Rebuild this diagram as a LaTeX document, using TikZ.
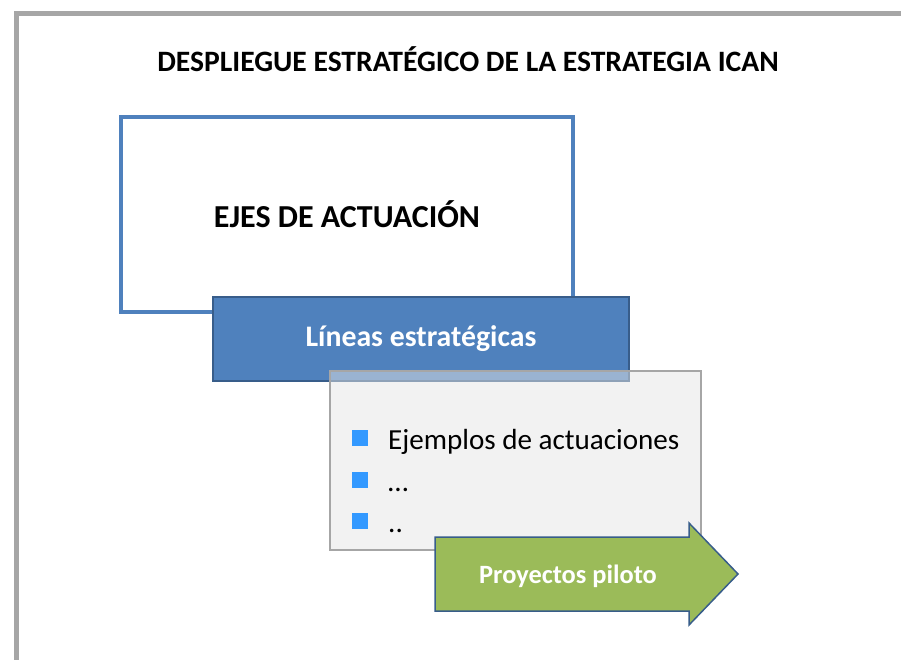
\documentclass[tikz,border=0pt]{standalone}
\usepackage{fontspec}
\setmainfont{Carlito}
\usetikzlibrary{positioning}

\definecolor{azul}{HTML}{4F81BD}
\definecolor{azulosc}{HTML}{385D8A}
\definecolor{verde}{HTML}{9BBB59}
\definecolor{gris}{HTML}{A6A6A6}
\definecolor{grisfondo}{HTML}{E5E5E5}
\definecolor{vineta}{HTML}{3399FF}

\begin{document}
\begin{tikzpicture}[x=1pt, y=-1pt,
    ejebox/.style={draw=azul, line width=4pt, minimum width=452pt, minimum height=195pt, inner sep=0pt},
    lineabox/.style={draw=azulosc, line width=1.5pt, fill=azul, text=white, minimum width=416pt, minimum height=84pt, inner sep=0pt},
    ejemplobox/.style={draw=gris, line width=1.5pt, fill=grisfondo, fill opacity=0.5, draw opacity=1, minimum width=371pt, minimum height=179pt, inner sep=0pt},
    vinetabox/.style={fill=vineta, minimum size=16pt, inner sep=0pt},
    pilototext/.style={text=white, inner sep=0pt}]

    % Tamano fijo de la pagina y marco gris (se sale por la derecha y por abajo)
    \useasboundingbox (0,0) rectangle (901,659);
    \clip (0,0) rectangle (901,659);
    \draw[gris, line width=5pt] (16,13) rectangle (930,690);

    % Titulo
    \node[anchor=base] (titulo) at (468,71) {\fontsize{29.6}{34}\selectfont\bfseries DESPLIEGUE ESTRATÉGICO DE LA ESTRATEGIA ICAN};

    % Caja de ejes de actuacion
    \node[ejebox] (ejes) at (347,214.5) {\fontsize{32}{36}\selectfont\bfseries EJES DE ACTUACIÓN};

    % Caja azul de lineas estrategicas
    \node[lineabox] (lineas) at (421,339) {\fontsize{29.8}{34}\selectfont\bfseries Líneas estratégicas};

    % Caja gris semitransparente por encima de la azul
    \node[ejemplobox] (ejemplos) at (515.5,460.5) {};

    % Vinetas con sus textos
    \foreach \t/\y [count=\i] in {Ejemplos de actuaciones/437.5, \ldots/480, {.}{.}/521} {
        \node[vinetabox] (vin\i) at (360,\y) {};
        \node[anchor=base west, inner sep=0pt] (txt\i) at (388,\y+11.5) {\fontsize{29.1}{33}\selectfont \t};
    }

    % Flecha verde de proyectos piloto
    \draw[azulosc, line width=1.5pt, fill=verde]
        (435,537) -- (689,537) -- (689,523) -- (738,574) -- (689,625) -- (689,611) -- (435,611) -- cycle;
    \node[pilototext] (piloto) at (568,576) {\fontsize{26.4}{30}\selectfont\bfseries Proyectos piloto};

\end{tikzpicture}
\end{document}
